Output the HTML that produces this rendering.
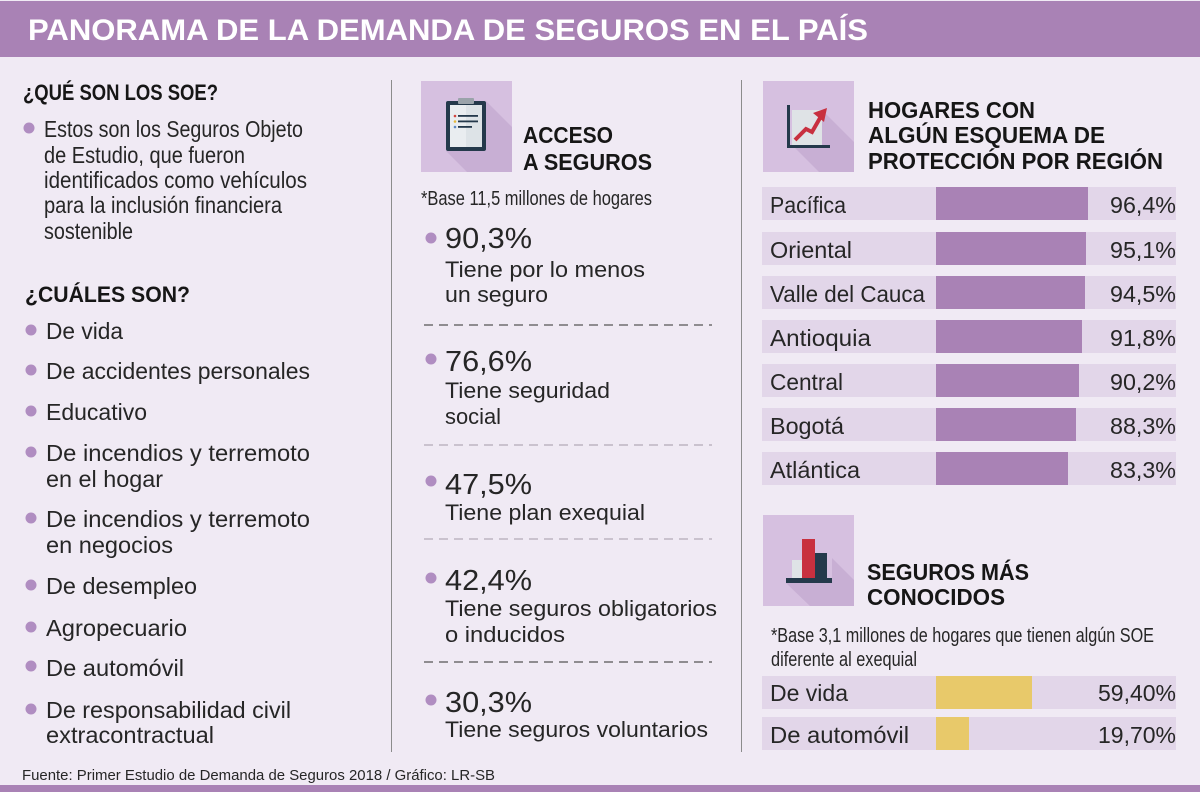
<!DOCTYPE html>
<html><head><meta charset="utf-8"><style>
html,body{margin:0;padding:0;background:#f0eaf4;}
svg{display:block;}
text{font-family:"Liberation Sans",sans-serif;fill:#262626;}
.b{font-weight:bold;fill:#161616;}
</style></head><body>
<svg width="1200" height="792" viewBox="0 0 1200 792" xmlns="http://www.w3.org/2000/svg">
<rect x="0" y="0" width="1200" height="792" fill="#f0eaf4"/>
<rect x="0" y="1" width="1200" height="56" fill="#a982b5"/>
<rect x="0" y="785" width="1200" height="7" fill="#a982b5"/>
<text x="28" y="40" font-size="30" class="b" style="fill:#fff" textLength="840" lengthAdjust="spacingAndGlyphs">PANORAMA DE LA DEMANDA DE SEGUROS EN EL PAÍS</text>

<!-- dividers -->
<line x1="391.5" y1="80" x2="391.5" y2="752" stroke="#8c8c8c" stroke-width="1"/>
<line x1="741.5" y1="80" x2="741.5" y2="752" stroke="#8c8c8c" stroke-width="1"/>

<!-- LEFT COLUMN -->
<g fill="#b08dc1">
<circle cx="29" cy="128" r="5.5"/>
<circle cx="31" cy="330" r="5.5"/>
<circle cx="31" cy="370" r="5.5"/>
<circle cx="31" cy="411" r="5.5"/>
<circle cx="31" cy="452" r="5.5"/>
<circle cx="31" cy="518" r="5.5"/>
<circle cx="31" cy="585" r="5.5"/>
<circle cx="31" cy="627" r="5.5"/>
<circle cx="31" cy="666" r="5.5"/>
<circle cx="31" cy="709" r="5.5"/>
</g>
<text x="23" y="100" font-size="22.5" class="b" textLength="195" lengthAdjust="spacingAndGlyphs">¿QUÉ SON LOS SOE?</text>
<g font-size="23.5">
<text x="44" y="137" textLength="259" lengthAdjust="spacingAndGlyphs">Estos son los Seguros Objeto</text>
<text x="44" y="163" textLength="201" lengthAdjust="spacingAndGlyphs">de Estudio, que fueron</text>
<text x="44" y="188" textLength="263" lengthAdjust="spacingAndGlyphs">identificados como vehículos</text>
<text x="44" y="213" textLength="238" lengthAdjust="spacingAndGlyphs">para la inclusión financiera</text>
<text x="44" y="239" textLength="89" lengthAdjust="spacingAndGlyphs">sostenible</text>
</g>
<text x="25" y="302" font-size="22.5" class="b" textLength="165" lengthAdjust="spacingAndGlyphs">¿CUÁLES SON?</text>
<g font-size="23">
<text x="46" y="339" textLength="77" lengthAdjust="spacingAndGlyphs">De vida</text>
<text x="46" y="379" textLength="264" lengthAdjust="spacingAndGlyphs">De accidentes personales</text>
<text x="46" y="420" textLength="101" lengthAdjust="spacingAndGlyphs">Educativo</text>
<text x="46" y="461" textLength="264" lengthAdjust="spacingAndGlyphs">De incendios y terremoto</text>
<text x="46" y="487" textLength="117" lengthAdjust="spacingAndGlyphs">en el hogar</text>
<text x="46" y="527" textLength="264" lengthAdjust="spacingAndGlyphs">De incendios y terremoto</text>
<text x="46" y="553" textLength="127" lengthAdjust="spacingAndGlyphs">en negocios</text>
<text x="46" y="594" textLength="151" lengthAdjust="spacingAndGlyphs">De desempleo</text>
<text x="46" y="636" textLength="141" lengthAdjust="spacingAndGlyphs">Agropecuario</text>
<text x="46" y="676" textLength="138" lengthAdjust="spacingAndGlyphs">De automóvil</text>
<text x="46" y="718" textLength="245" lengthAdjust="spacingAndGlyphs">De responsabilidad civil</text>
<text x="46" y="743" textLength="168" lengthAdjust="spacingAndGlyphs">extracontractual</text>
</g>
<text x="22" y="780" font-size="15" textLength="473" lengthAdjust="spacingAndGlyphs">Fuente: Primer Estudio de Demanda de Seguros 2018 / Gráfico: LR-SB</text>

<!-- MIDDLE COLUMN -->
<rect x="421" y="81" width="91" height="91" fill="#d6c0e0"/>
<polygon points="486,101 512,127 512,172 467,172 446,151 486,151" fill="#c8afd4"/>
<rect x="446" y="101" width="40" height="50" rx="2" fill="#24394b"/>
<rect x="450" y="105" width="32" height="42" fill="#e9edf0"/>
<rect x="466" y="105" width="16" height="42" fill="#dde3e7"/>
<rect x="458" y="98" width="16" height="6" rx="1" fill="#9aa3aa"/>
<circle cx="455" cy="116" r="1.3" fill="#d2453f"/>
<circle cx="455" cy="121.5" r="1.3" fill="#e5b93a"/>
<circle cx="455" cy="127" r="1.3" fill="#5b86c2"/>
<rect x="458" y="115" width="20" height="1.8" fill="#24394b"/>
<rect x="458" y="120.5" width="20" height="1.8" fill="#24394b"/>
<rect x="458" y="126" width="14" height="1.8" fill="#24394b"/>

<text x="523" y="143" font-size="23" class="b" textLength="90" lengthAdjust="spacingAndGlyphs">ACCESO</text>
<text x="523" y="170" font-size="23" class="b" textLength="129" lengthAdjust="spacingAndGlyphs">A SEGUROS</text>
<text x="421" y="205" font-size="20" textLength="231" lengthAdjust="spacingAndGlyphs">*Base 11,5 millones de hogares</text>

<g fill="#b08dc1">
<circle cx="431" cy="238" r="5.5"/>
<circle cx="431" cy="359" r="5.5"/>
<circle cx="431" cy="481" r="5.5"/>
<circle cx="431" cy="578" r="5.5"/>
<circle cx="431" cy="700" r="5.5"/>
</g>
<g font-size="29">
<text x="445" y="248" textLength="87" lengthAdjust="spacingAndGlyphs">90,3%</text>
<text x="445" y="371" textLength="87" lengthAdjust="spacingAndGlyphs">76,6%</text>
<text x="445" y="494" textLength="87" lengthAdjust="spacingAndGlyphs">47,5%</text>
<text x="445" y="590" textLength="87" lengthAdjust="spacingAndGlyphs">42,4%</text>
<text x="445" y="712" textLength="87" lengthAdjust="spacingAndGlyphs">30,3%</text>
</g>
<g font-size="22.5">
<text x="445" y="277" textLength="200" lengthAdjust="spacingAndGlyphs">Tiene por lo menos</text>
<text x="445" y="302" textLength="103" lengthAdjust="spacingAndGlyphs">un seguro</text>
<text x="445" y="398" textLength="165" lengthAdjust="spacingAndGlyphs">Tiene seguridad</text>
<text x="445" y="424" textLength="56" lengthAdjust="spacingAndGlyphs">social</text>
<text x="445" y="520" textLength="200" lengthAdjust="spacingAndGlyphs">Tiene plan exequial</text>
<text x="445" y="616" textLength="272" lengthAdjust="spacingAndGlyphs">Tiene seguros obligatorios</text>
<text x="445" y="642" textLength="120" lengthAdjust="spacingAndGlyphs">o inducidos</text>
<text x="445" y="737" textLength="263" lengthAdjust="spacingAndGlyphs">Tiene seguros voluntarios</text>
</g>
<g stroke-width="1.3" stroke-dasharray="9,6">
<line x1="424" y1="325" x2="712" y2="325" stroke="#555"/>
<line x1="424" y1="445" x2="712" y2="445" stroke="#b3abb8"/>
<line x1="424" y1="539" x2="712" y2="539" stroke="#b3abb8"/>
<line x1="424" y1="662" x2="712" y2="662" stroke="#555"/>
</g>

<!-- RIGHT COLUMN -->
<rect x="763" y="81" width="91" height="91" fill="#d6c0e0"/>
<polygon points="822,110 854,142 854,172 819,172 793,146 822,146" fill="#c8afd4"/>
<rect x="792" y="110" width="30" height="36" fill="#dfe3e6"/>
<rect x="787" y="105" width="3" height="43" fill="#24394b"/>
<rect x="787" y="145" width="43" height="3" fill="#24394b"/>
<polyline points="795,140 806,129 812,132 820,118" fill="none" stroke="#c8303f" stroke-width="4" stroke-linejoin="miter"/>
<polygon points="813,113 827,108 824,122" fill="#c8303f"/>

<text x="868" y="118" font-size="23" class="b" textLength="167" lengthAdjust="spacingAndGlyphs">HOGARES CON</text>
<text x="868" y="143" font-size="23" class="b" textLength="237" lengthAdjust="spacingAndGlyphs">ALGÚN ESQUEMA DE</text>
<text x="868" y="169" font-size="23" class="b" textLength="295" lengthAdjust="spacingAndGlyphs">PROTECCIÓN POR REGIÓN</text>

<g fill="#e2d6e9">
<rect x="762" y="187" width="414" height="33"/>
<rect x="762" y="232" width="414" height="33"/>
<rect x="762" y="276" width="414" height="33"/>
<rect x="762" y="320" width="414" height="33"/>
<rect x="762" y="364" width="414" height="33"/>
<rect x="762" y="408" width="414" height="33"/>
<rect x="762" y="452" width="414" height="33"/>
</g>
<g fill="#a982b5">
<rect x="936" y="187" width="152" height="33"/>
<rect x="936" y="232" width="150" height="33"/>
<rect x="936" y="276" width="149" height="33"/>
<rect x="936" y="320" width="146" height="33"/>
<rect x="936" y="364" width="143" height="33"/>
<rect x="936" y="408" width="140" height="33"/>
<rect x="936" y="452" width="132" height="33"/>
</g>
<g font-size="23">
<text x="770" y="213" textLength="76" lengthAdjust="spacingAndGlyphs">Pacífica</text>
<text x="770" y="258" textLength="82" lengthAdjust="spacingAndGlyphs">Oriental</text>
<text x="770" y="302" textLength="155" lengthAdjust="spacingAndGlyphs">Valle del Cauca</text>
<text x="770" y="346" textLength="101" lengthAdjust="spacingAndGlyphs">Antioquia</text>
<text x="770" y="390" textLength="73" lengthAdjust="spacingAndGlyphs">Central</text>
<text x="770" y="434" textLength="74" lengthAdjust="spacingAndGlyphs">Bogotá</text>
<text x="770" y="478" textLength="90" lengthAdjust="spacingAndGlyphs">Atlántica</text>
<text x="1110" y="213" textLength="66" lengthAdjust="spacingAndGlyphs">96,4%</text>
<text x="1110" y="258" textLength="66" lengthAdjust="spacingAndGlyphs">95,1%</text>
<text x="1110" y="302" textLength="66" lengthAdjust="spacingAndGlyphs">94,5%</text>
<text x="1110" y="346" textLength="66" lengthAdjust="spacingAndGlyphs">91,8%</text>
<text x="1110" y="390" textLength="66" lengthAdjust="spacingAndGlyphs">90,2%</text>
<text x="1110" y="434" textLength="66" lengthAdjust="spacingAndGlyphs">88,3%</text>
<text x="1110" y="478" textLength="66" lengthAdjust="spacingAndGlyphs">83,3%</text>
</g>

<rect x="763" y="515" width="91" height="91" fill="#d6c0e0"/>
<polygon points="827,553 854,580 854,606 810,606 786,583 832,583 832,558" fill="#c8afd4"/>
<rect x="792" y="560" width="10" height="18" fill="#dfe3e6"/>
<rect x="802" y="539" width="13" height="39" fill="#c8303f"/>
<rect x="815" y="553" width="12" height="25" fill="#24394b"/>
<rect x="786" y="578" width="46" height="5" fill="#24394b"/>

<text x="867" y="580" font-size="23" class="b" textLength="162" lengthAdjust="spacingAndGlyphs">SEGUROS MÁS</text>
<text x="867" y="605" font-size="23" class="b" textLength="138" lengthAdjust="spacingAndGlyphs">CONOCIDOS</text>
<text x="771" y="642" font-size="20" textLength="383" lengthAdjust="spacingAndGlyphs">*Base 3,1 millones de hogares que tienen algún SOE</text>
<text x="771" y="666" font-size="20" textLength="146" lengthAdjust="spacingAndGlyphs">diferente al exequial</text>

<rect x="762" y="676" width="414" height="33" fill="#e2d6e9"/>
<rect x="762" y="717" width="414" height="33" fill="#e2d6e9"/>
<rect x="936" y="676" width="96" height="33" fill="#e8c96a"/>
<rect x="936" y="717" width="33" height="33" fill="#e8c96a"/>
<g font-size="23">
<text x="770" y="701" textLength="78" lengthAdjust="spacingAndGlyphs">De vida</text>
<text x="770" y="743" textLength="139" lengthAdjust="spacingAndGlyphs">De automóvil</text>
<text x="1098" y="701" textLength="78" lengthAdjust="spacingAndGlyphs">59,40%</text>
<text x="1098" y="743" textLength="78" lengthAdjust="spacingAndGlyphs">19,70%</text>
</g>
</svg>
</body></html>
